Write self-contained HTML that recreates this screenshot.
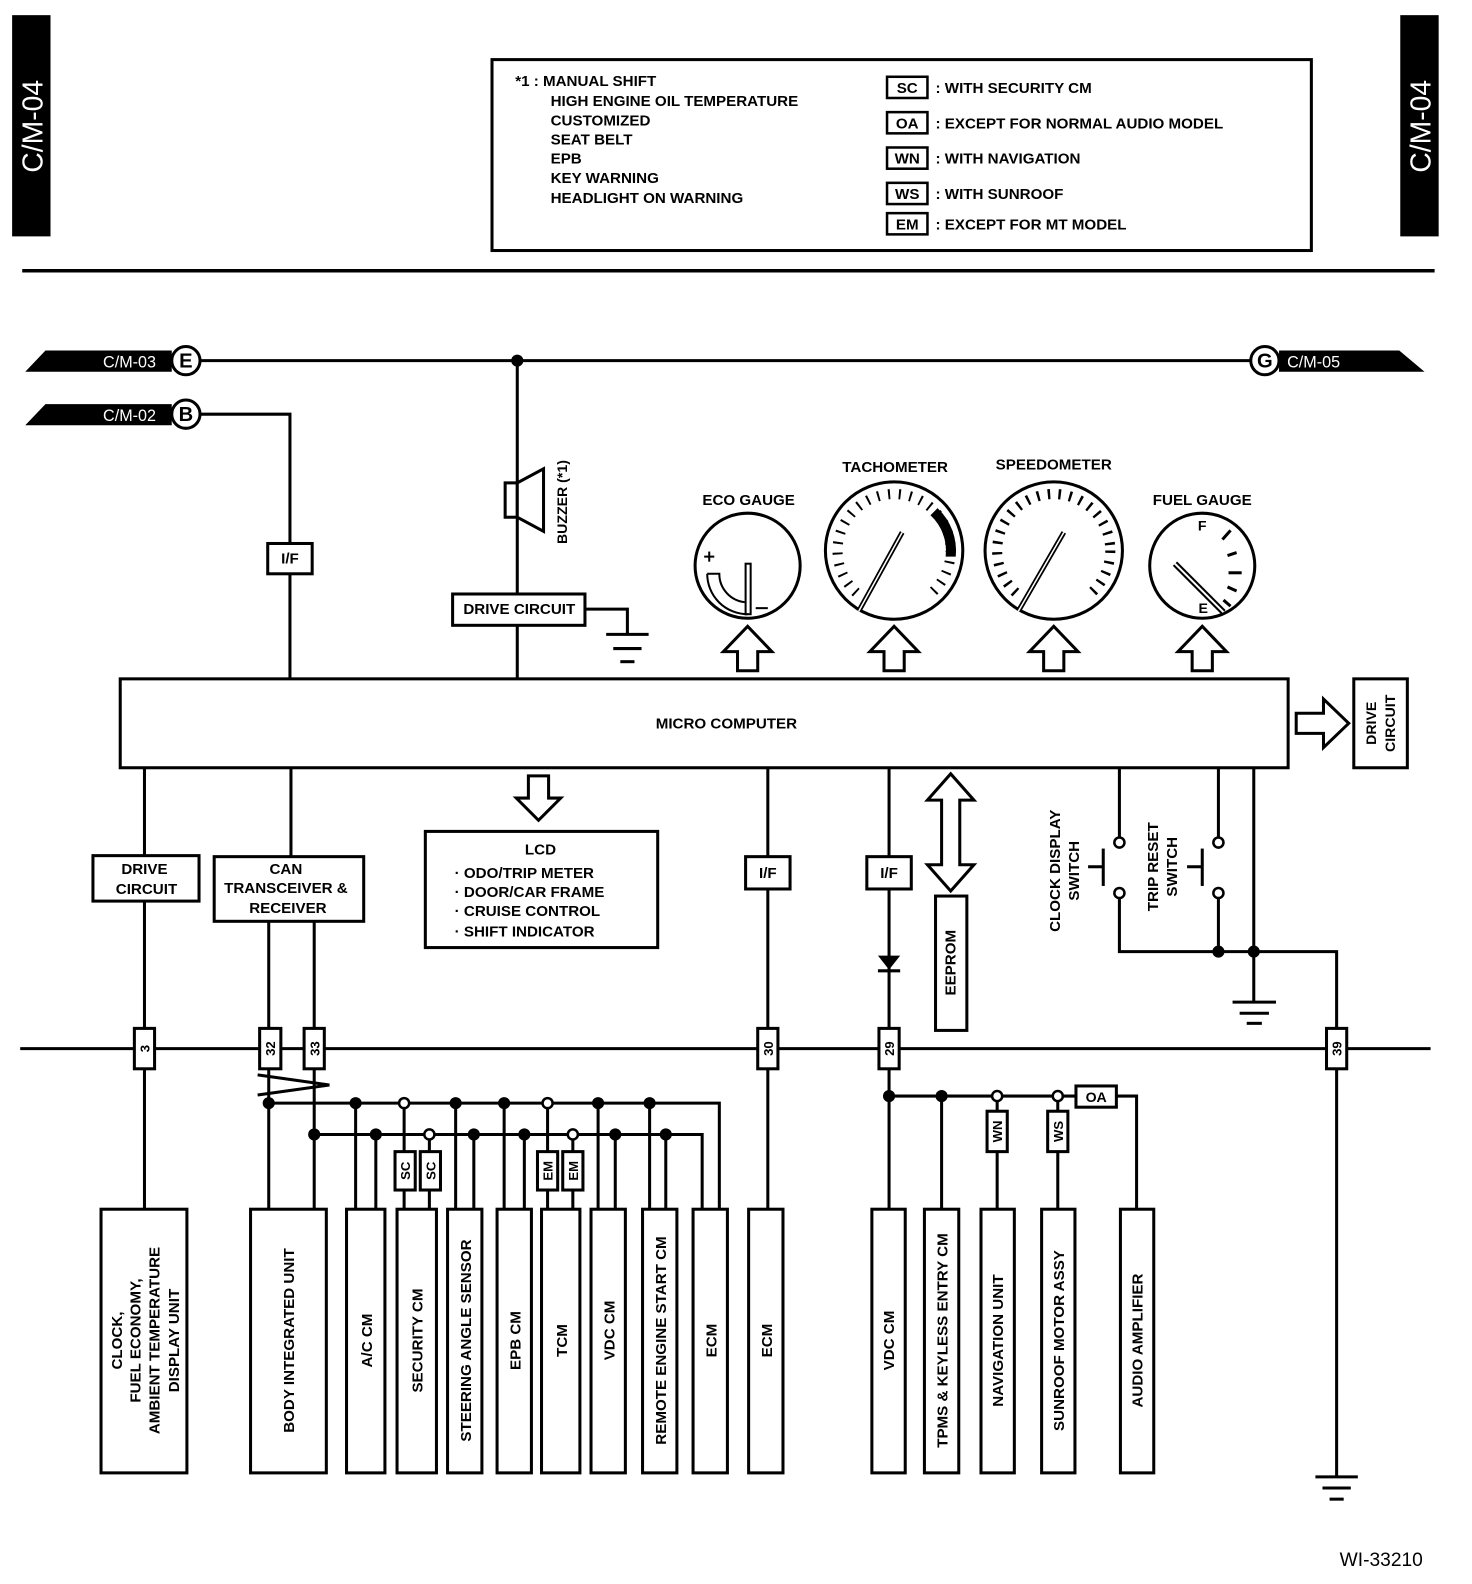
<!DOCTYPE html>
<html><head><meta charset="utf-8"><style>
html,body{margin:0;padding:0;background:#fff}
svg{display:block}
text{font-family:"Liberation Sans",sans-serif;font-weight:bold;fill:#000}
</style></head><body>
<svg width="1472" height="1584" viewBox="0 0 1457 1568" preserveAspectRatio="none" xmlns="http://www.w3.org/2000/svg">
<g fill="none" stroke="#000" stroke-width="3">
<rect x="12" y="15" width="38" height="219" fill="#000" stroke="none"/>
<rect x="1386" y="15" width="38" height="219" fill="#000" stroke="none"/>
<rect x="487" y="59" width="811" height="189"/>
<rect x="878" y="76" width="40" height="21" stroke-width="2.5"/>
<rect x="878" y="111" width="40" height="21" stroke-width="2.5"/>
<rect x="878" y="146" width="40" height="21" stroke-width="2.5"/>
<rect x="878" y="181" width="40" height="21" stroke-width="2.5"/>
<rect x="878" y="211" width="40" height="21" stroke-width="2.5"/>
<line x1="22" y1="268" x2="1420" y2="268" stroke-width="3.5"/>
</g>
<text transform="translate(42,125) rotate(-90)" text-anchor="middle" style="fill:#fff;font-size:28px;font-weight:normal">C/M-04</text>
<text transform="translate(1416,125) rotate(-90)" text-anchor="middle" style="fill:#fff;font-size:28px;font-weight:normal">C/M-04</text>
<g font-size="15">
<text x="510" y="85">*1 : MANUAL SHIFT</text>
<text x="545" y="105">HIGH ENGINE OIL TEMPERATURE</text>
<text x="545" y="124">CUSTOMIZED</text>
<text x="545" y="143">SEAT BELT</text>
<text x="545" y="162">EPB</text>
<text x="545" y="181">KEY WARNING</text>
<text x="545" y="201">HEADLIGHT ON WARNING</text>
<g text-anchor="middle"><text x="898" y="92">SC</text><text x="898" y="127">OA</text><text x="898" y="162">WN</text><text x="898" y="197">WS</text><text x="898" y="227">EM</text></g>
<text x="926" y="92">: WITH SECURITY CM</text>
<text x="926" y="127">: EXCEPT FOR NORMAL AUDIO MODEL</text>
<text x="926" y="162">: WITH NAVIGATION</text>
<text x="926" y="197">: WITH SUNROOF</text>
<text x="926" y="227">: EXCEPT FOR MT MODEL</text>
</g>
<polygon points="25,368 45,347 170,347 170,368" fill="#000"/>
<polygon points="25,421 45,400 170,400 170,421" fill="#000"/>
<polygon points="1266,347 1385,347 1410,368 1266,368" fill="#000"/>
<text x="102" y="364" style="fill:#fff;font-size:16px;font-weight:normal">C/M-03</text>
<text x="102" y="417" style="fill:#fff;font-size:16px;font-weight:normal">C/M-02</text>
<text x="1274" y="364" style="fill:#fff;font-size:16px;font-weight:normal">C/M-05</text>
<g fill="#fff" stroke="#000" stroke-width="3">
<circle cx="184" cy="357" r="14"/><circle cx="184" cy="410" r="14"/><circle cx="1252" cy="357" r="14"/>
</g>
<g font-size="20" text-anchor="middle"><text x="184" y="364">E</text><text x="184" y="417">B</text><text x="1252" y="364">G</text></g>
<g fill="none" stroke="#000" stroke-width="3">
<line x1="198" y1="357" x2="1238" y2="357"/>
<polyline points="198,410 287,410 287,672"/>
<line x1="512" y1="357" x2="512" y2="588"/>
<line x1="512" y1="619" x2="512" y2="672"/>
<polyline points="579,603 621,603 621,628"/>
<line x1="600" y1="628" x2="642" y2="628"/><line x1="607" y1="642" x2="635" y2="642"/><line x1="614" y1="655" x2="628" y2="655"/>
<rect x="500" y="478" width="12" height="34" fill="#fff"/>
<polygon points="512,478 538,464 538,526 512,512" fill="#fff"/>
<rect x="265" y="538" width="44" height="30" fill="#fff"/>
<rect x="448" y="588" width="131" height="31" fill="#fff"/>
<!-- tick rings -->
<circle cx="885" cy="545" r="56" stroke-width="10" pathLength="360" stroke-dasharray="2 9"/>
<circle cx="1043" cy="545" r="56" stroke-width="10" pathLength="360" stroke-dasharray="2.5 8.5"/>
</g>
<polygon points="885,545 830,615 940,615" fill="#fff"/>
<polygon points="1043,545 988,615 1098,615" fill="#fff"/>
<path d="M928,503 A58,58 0 0 1 946,551 L936,551 A48,48 0 0 0 921,510Z" fill="#000"/>
<g fill="none" stroke="#000" stroke-width="3">
<circle cx="740" cy="560" r="52"/>
<circle cx="885" cy="545" r="68"/>
<circle cx="1043" cy="545" r="68"/>
<circle cx="1190" cy="560" r="52"/>
<line x1="850" y1="605" x2="893" y2="527" stroke-width="5"/>
<line x1="850" y1="605" x2="893" y2="527" stroke="#fff" stroke-width="1.5"/>
<line x1="1008" y1="605" x2="1053" y2="527" stroke-width="5"/>
<line x1="1008" y1="605" x2="1053" y2="527" stroke="#fff" stroke-width="1.5"/>
<line x1="1163" y1="558" x2="1211" y2="606" stroke-width="6"/>
<line x1="1163" y1="558" x2="1211" y2="606" stroke="#fff" stroke-width="2"/>
<line x1="1210" y1="534" x2="1218" y2="525" stroke-width="3"/>
<line x1="1215" y1="550" x2="1224" y2="547" stroke-width="3"/>
<line x1="1216" y1="567" x2="1229" y2="567" stroke-width="3"/>
<line x1="1215" y1="581" x2="1224" y2="585" stroke-width="3"/>
<line x1="1211" y1="594" x2="1218" y2="600" stroke-width="3"/>
<path d="M700,568 A40,40 0 0 0 740,608 L737,608 M700,568 L712,568 A28,28 0 0 0 737,596" stroke-width="2"/>
<rect x="738" y="558" width="5" height="50" stroke-width="2"/>
<line x1="748" y1="602" x2="760" y2="602" stroke-width="2"/>
<line x1="697" y1="551" x2="707" y2="551" stroke-width="2"/><line x1="702" y1="546" x2="702" y2="556" stroke-width="2"/>
</g>
<g fill="#fff" stroke="#000" stroke-width="3">
<polygon points="740,620 764,645 750,645 750,664 730,664 730,645 716,645"/>
<polygon points="885,620 909,645 895,645 895,664 875,664 875,645 861,645"/>
<polygon points="1043,620 1067,645 1053,645 1053,664 1033,664 1033,645 1019,645"/>
<polygon points="1190,620 1214,645 1200,645 1200,664 1180,664 1180,645 1166,645"/>
<rect x="119" y="672" width="1156" height="88"/>
<polygon points="1335,716 1310,692 1310,706 1283,706 1283,726 1310,726 1310,740"/>
<rect x="1340" y="672" width="53" height="88"/>
<polygon points="533,812 555,790 543,790 543,768 523,768 523,790 511,790"/>
<polygon points="941,766 964,792 950,792 950,856 964,856 941,882 918,856 932,856 932,792 918,792"/>
</g>
<g font-size="15" text-anchor="middle">
<text x="741" y="500">ECO GAUGE</text><text x="886" y="467">TACHOMETER</text><text x="1043" y="465">SPEEDOMETER</text><text x="1190" y="500">FUEL GAUGE</text>
<text x="1190" y="525" font-size="14">F</text><text x="1191" y="607" font-size="14">E</text>
<text x="287" y="558">I/F</text><text x="514" y="608">DRIVE CIRCUIT</text>
<text x="719" y="721">MICRO COMPUTER</text>
</g>
<text transform="translate(561,497) rotate(-90)" text-anchor="middle" font-size="14">BUZZER (*1)</text>
<text transform="translate(1362,716) rotate(-90)" text-anchor="middle" font-size="14">DRIVE</text>
<text transform="translate(1381,716) rotate(-90)" text-anchor="middle" font-size="14">CIRCUIT</text>
<g fill="none" stroke="#000" stroke-width="3">
<line x1="20" y1="1038" x2="1416" y2="1038"/>
<line x1="143" y1="760" x2="143" y2="1198"/>
<line x1="288" y1="760" x2="288" y2="848"/>
<line x1="266" y1="912" x2="266" y2="1198"/>
<line x1="311" y1="912" x2="311" y2="1198"/>
<line x1="760" y1="760" x2="760" y2="1198"/>
<line x1="880" y1="760" x2="880" y2="1198"/>
<polyline points="1108,760 1108,828"/>
<polyline points="1108,890 1108,942 1323,942 1323,1462"/>
<line x1="1206" y1="760" x2="1206" y2="828"/>
<line x1="1206" y1="890" x2="1206" y2="942"/>
<line x1="1241" y1="760" x2="1241" y2="992"/>
<line x1="1220" y1="992" x2="1263" y2="992"/><line x1="1227" y1="1003" x2="1256" y2="1003"/><line x1="1234" y1="1013" x2="1249" y2="1013"/>
<line x1="1302" y1="1462" x2="1344" y2="1462"/><line x1="1309" y1="1473" x2="1337" y2="1473"/><line x1="1316" y1="1484" x2="1330" y2="1484"/>
<line x1="1092" y1="840" x2="1092" y2="877"/><line x1="1077" y1="858" x2="1092" y2="858"/>
<line x1="1190" y1="840" x2="1190" y2="877"/><line x1="1175" y1="858" x2="1190" y2="858"/>
<rect x="92" y="847" width="105" height="45" fill="#fff"/>
<rect x="212" y="848" width="148" height="64" fill="#fff"/>
<rect x="421" y="823" width="230" height="115" fill="#fff"/>
<rect x="738" y="848" width="44" height="32" fill="#fff"/>
<rect x="858" y="848" width="44" height="32" fill="#fff"/>
<rect x="926" y="887" width="31" height="133" fill="#fff"/>
<rect x="133" y="1018" width="20" height="40" fill="#fff"/>
<rect x="257" y="1018" width="21" height="40" fill="#fff"/>
<rect x="301" y="1018" width="20" height="40" fill="#fff"/>
<rect x="750" y="1018" width="20" height="40" fill="#fff"/>
<rect x="870" y="1018" width="20" height="40" fill="#fff"/>
<rect x="1313" y="1018" width="20" height="40" fill="#fff"/>
<polyline points="255,1064 326,1074 255,1084"/>
<polyline points="266,1092 712,1092 712,1198"/>
<polyline points="311,1123 695,1123 695,1198"/>
<line x1="352" y1="1092" x2="352" y2="1198"/><line x1="372" y1="1123" x2="372" y2="1198"/>
<line x1="400" y1="1092" x2="400" y2="1198"/><line x1="425" y1="1123" x2="425" y2="1198"/>
<line x1="451" y1="1092" x2="451" y2="1198"/><line x1="469" y1="1123" x2="469" y2="1198"/>
<line x1="499" y1="1092" x2="499" y2="1198"/><line x1="519" y1="1123" x2="519" y2="1198"/>
<line x1="542" y1="1092" x2="542" y2="1198"/><line x1="567" y1="1123" x2="567" y2="1198"/>
<line x1="592" y1="1092" x2="592" y2="1198"/><line x1="609" y1="1123" x2="609" y2="1198"/>
<line x1="643" y1="1092" x2="643" y2="1198"/><line x1="659" y1="1123" x2="659" y2="1198"/>
<polyline points="880,1085 1125,1085 1125,1198"/>
<line x1="932" y1="1085" x2="932" y2="1198"/>
<line x1="987" y1="1085" x2="987" y2="1198"/>
<line x1="1047" y1="1085" x2="1047" y2="1198"/>
<rect x="391" y="1140" width="20" height="38" fill="#fff"/>
<rect x="416" y="1140" width="20" height="38" fill="#fff"/>
<rect x="532" y="1140" width="20" height="38" fill="#fff"/>
<rect x="557" y="1140" width="20" height="38" fill="#fff"/>
<rect x="977" y="1100" width="20" height="40" fill="#fff"/>
<rect x="1037" y="1100" width="20" height="40" fill="#fff"/>
<rect x="1065" y="1075" width="40" height="21" fill="#fff"/>
<rect x="100" y="1197" width="85" height="261" fill="#fff"/>
<rect x="248" y="1197" width="75" height="261" fill="#fff"/>
<rect x="343" y="1197" width="38" height="261" fill="#fff"/>
<rect x="393" y="1197" width="39" height="261" fill="#fff"/>
<rect x="443" y="1197" width="34" height="261" fill="#fff"/>
<rect x="492" y="1197" width="34" height="261" fill="#fff"/>
<rect x="536" y="1197" width="38" height="261" fill="#fff"/>
<rect x="585" y="1197" width="34" height="261" fill="#fff"/>
<rect x="636" y="1197" width="34" height="261" fill="#fff"/>
<rect x="686" y="1197" width="34" height="261" fill="#fff"/>
<rect x="741" y="1197" width="34" height="261" fill="#fff"/>
<rect x="863" y="1197" width="33" height="261" fill="#fff"/>
<rect x="915" y="1197" width="34" height="261" fill="#fff"/>
<rect x="971" y="1197" width="33" height="261" fill="#fff"/>
<rect x="1031" y="1197" width="33" height="261" fill="#fff"/>
<rect x="1109" y="1197" width="33" height="261" fill="#fff"/>
</g>
<polygon points="869,946 891,946 880,960" fill="#000"/>
<line x1="869" y1="961" x2="891" y2="961" stroke="#000" stroke-width="3"/>
<g fill="#000">
<circle cx="512" cy="357" r="6"/>
<circle cx="266" cy="1092" r="6"/><circle cx="352" cy="1092" r="6"/><circle cx="451" cy="1092" r="6"/><circle cx="499" cy="1092" r="6"/><circle cx="592" cy="1092" r="6"/><circle cx="643" cy="1092" r="6"/>
<circle cx="311" cy="1123" r="6"/><circle cx="372" cy="1123" r="6"/><circle cx="469" cy="1123" r="6"/><circle cx="519" cy="1123" r="6"/><circle cx="609" cy="1123" r="6"/><circle cx="659" cy="1123" r="6"/>
<circle cx="880" cy="1085" r="6"/><circle cx="932" cy="1085" r="6"/>
<circle cx="1206" cy="942" r="6"/><circle cx="1241" cy="942" r="6"/>
</g>
<g fill="#fff" stroke="#000" stroke-width="2.5">
<circle cx="400" cy="1092" r="5"/><circle cx="542" cy="1092" r="5"/><circle cx="425" cy="1123" r="5"/><circle cx="567" cy="1123" r="5"/>
<circle cx="987" cy="1085" r="5"/><circle cx="1047" cy="1085" r="5"/>
<circle cx="1108" cy="834" r="5"/><circle cx="1108" cy="884" r="5"/><circle cx="1206" cy="834" r="5"/><circle cx="1206" cy="884" r="5"/>
</g>
<g font-size="15" text-anchor="middle">
<text x="143" y="865">DRIVE</text><text x="145" y="885">CIRCUIT</text>
<text x="283" y="865">CAN</text><text x="283" y="884">TRANSCEIVER &amp;</text><text x="285" y="904">RECEIVER</text>
<text x="535" y="846">LCD</text>
<text x="760" y="869">I/F</text><text x="880" y="869">I/F</text>
<text x="1085" y="1091" font-size="14">OA</text>
</g>
<g font-size="15">
<text x="450" y="869">· ODO/TRIP METER</text>
<text x="450" y="888">· DOOR/CAR FRAME</text>
<text x="450" y="907">· CRUISE CONTROL</text>
<text x="450" y="927">· SHIFT INDICATOR</text>
</g>
<g font-size="13" text-anchor="middle">
<text transform="translate(148,1038) rotate(-90)">3</text>
<text transform="translate(272,1038) rotate(-90)">32</text>
<text transform="translate(316,1038) rotate(-90)">33</text>
<text transform="translate(765,1038) rotate(-90)">30</text>
<text transform="translate(885,1038) rotate(-90)">29</text>
<text transform="translate(1328,1038) rotate(-90)">39</text>
<text transform="translate(406,1159) rotate(-90)">SC</text>
<text transform="translate(431,1159) rotate(-90)">SC</text>
<text transform="translate(547,1159) rotate(-90)">EM</text>
<text transform="translate(572,1159) rotate(-90)">EM</text>
<text transform="translate(992,1120) rotate(-90)">WN</text>
<text transform="translate(1052,1120) rotate(-90)">WS</text>
</g>
<g font-size="15" text-anchor="middle">
<text transform="translate(946,953) rotate(-90)">EEPROM</text>
<text transform="translate(1049,862) rotate(-90)">CLOCK DISPLAY</text>
<text transform="translate(1068,862) rotate(-90)">SWITCH</text>
<text transform="translate(1146,858) rotate(-90)">TRIP RESET</text>
<text transform="translate(1165,858) rotate(-90)">SWITCH</text>
<text transform="translate(121,1327) rotate(-90)">CLOCK,</text>
<text transform="translate(139,1327) rotate(-90)">FUEL ECONOMY,</text>
<text transform="translate(158,1327) rotate(-90)">AMBIENT TEMPERATURE</text>
<text transform="translate(177,1327) rotate(-90)">DISPLAY UNIT</text>
<text transform="translate(291,1327) rotate(-90)">BODY INTEGRATED UNIT</text>
<text transform="translate(368,1327) rotate(-90)">A/C CM</text>
<text transform="translate(418,1327) rotate(-90)">SECURITY CM</text>
<text transform="translate(466,1327) rotate(-90)">STEERING ANGLE SENSOR</text>
<text transform="translate(515,1327) rotate(-90)">EPB CM</text>
<text transform="translate(561,1327) rotate(-90)">TCM</text>
<text transform="translate(608,1317) rotate(-90)">VDC CM</text>
<text transform="translate(659,1327) rotate(-90)">REMOTE ENGINE START CM</text>
<text transform="translate(709,1327) rotate(-90)">ECM</text>
<text transform="translate(764,1327) rotate(-90)">ECM</text>
<text transform="translate(885,1327) rotate(-90)">VDC CM</text>
<text transform="translate(938,1327) rotate(-90)">TPMS &amp; KEYLESS ENTRY CM</text>
<text transform="translate(993,1327) rotate(-90)">NAVIGATION UNIT</text>
<text transform="translate(1053,1327) rotate(-90)">SUNROOF MOTOR ASSY</text>
<text transform="translate(1131,1327) rotate(-90)">AUDIO AMPLIFIER</text>
</g>
<text x="1326" y="1550" style="font-size:19px;font-weight:normal">WI-33210</text>
</svg>
</body></html>
